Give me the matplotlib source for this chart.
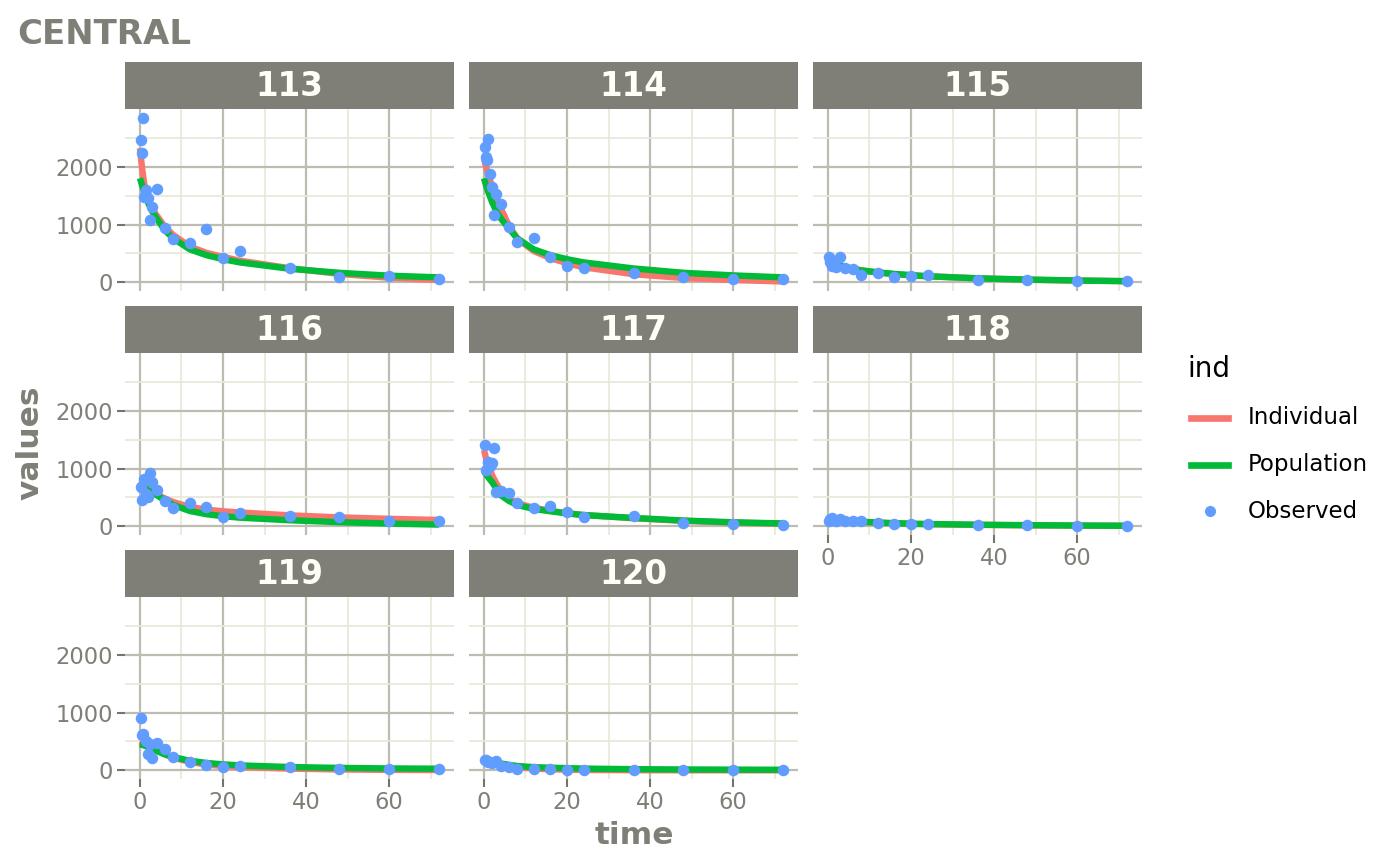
import matplotlib

matplotlib.use("Agg")
import matplotlib.pyplot as plt
from matplotlib.lines import Line2D
from matplotlib.ticker import MultipleLocator

# ---- data (CENTRAL compartment) ----
ids = ["113", "114", "115", "116", "117", "118", "119", "120"]

# prediction curves are tabulated on one common time grid
curve_t = [0, 0.5, 1, 2, 3, 4, 6, 8, 12, 16, 20, 24, 36, 48, 60, 72]

ind_113 = [2320, 1980, 1720, 1430, 1270, 1160, 960, 820, 620, 510, 440, 375, 245, 145, 80, 40]
pop_113 = [1800, 1680, 1570, 1370, 1220, 1107, 900, 761, 570, 470, 400, 345, 235, 165, 115, 86]
ind_114 = [2150, 2000, 1860, 1650, 1450, 1290, 980, 760, 540, 420, 330, 260, 140, 75, 40, 15]
pop_114 = [1800, 1680, 1570, 1380, 1230, 1110, 934, 761, 570, 470, 400, 345, 240, 165, 120, 86]
ind_115 = [420, 380, 350, 310, 290, 270, 235, 210, 170, 140, 120, 105, 70, 45, 30, 20]
pop_115 = [380, 360, 340, 310, 290, 270, 230, 205, 172, 145, 125, 105, 69, 48, 32, 20]
ind_116 = [780, 740, 700, 640, 600, 560, 480, 420, 335, 290, 260, 240, 190, 155, 130, 110]
pop_116 = [720, 690, 670, 620, 580, 540, 450, 370, 265, 210, 175, 150, 105, 72, 48, 30]
ind_117 = [1320, 1180, 1060, 880, 740, 620, 480, 400, 320, 270, 225, 195, 140, 95, 65, 45]
pop_117 = [950, 900, 850, 760, 650, 540, 440, 370, 300, 260, 225, 195, 145, 100, 70, 50]
ind_118 = [125, 120, 115, 108, 100, 94, 85, 78, 63, 52, 43, 37, 25, 17, 12, 8]
pop_118 = [120, 115, 110, 105, 100, 95, 88, 80, 65, 55, 45, 40, 28, 20, 14, 10]
ind_119 = [500, 480, 460, 420, 390, 350, 280, 220, 145, 100, 75, 55, 30, 15, 8, 5]
pop_119 = [450, 440, 430, 400, 370, 335, 275, 230, 165, 128, 103, 86, 57, 42, 33, 28]
ind_120 = [200, 185, 170, 145, 125, 105, 75, 55, 30, 18, 10, 6, 2, 1, 0.5, 0.3]
pop_120 = [190, 180, 170, 150, 135, 120, 95, 75, 55, 45, 38, 30, 20, 15, 12, 10]

obs_t_113 = [0.25, 0.5, 0.75, 1, 1.5, 2, 2.5, 3, 4, 6, 8, 12, 16, 20, 24, 36, 48, 60, 72]
obs_113 = [2460, 2230, 2850, 1480, 1590, 1450, 1083, 1308, 1619, 934, 749, 680, 927, 426, 542, 253, 97, 104, 52]
obs_t_114 = [0.25, 0.5, 0.75, 1, 1.5, 2, 2.5, 3, 4, 6, 8, 12, 16, 20, 24, 36, 48, 60, 72]
obs_114 = [2346, 2173, 2116, 2484, 1868, 1654, 1159, 1522, 1355, 951, 703, 772, 438, 287, 253, 166, 92, 62, 52]
obs_t_115 = [0.25, 0.5, 1, 1.5, 2, 3, 4, 6, 8, 12, 16, 20, 24, 36, 48, 60, 72]
obs_115 = [440, 360, 290, 320, 270, 440, 240, 225, 126, 156, 97, 114, 126, 40, 40, 22, 22]
obs_t_116 = [0.25, 0.5, 1, 1.5, 2, 2.5, 3, 4, 6, 8, 12, 16, 20, 24, 36, 48, 60, 72]
obs_116 = [680, 463, 820, 560, 505, 920, 760, 620, 433, 312, 399, 336, 163, 225, 185, 163, 99, 87]
obs_t_117 = [0.25, 0.5, 1, 1.5, 2, 2.5, 3, 4, 6, 8, 12, 16, 20, 24, 36, 48, 60, 72]
obs_117 = [1399, 977, 1121, 1035, 1090, 1359, 601, 619, 579, 405, 324, 347, 243, 168, 173, 64, 47, 29]
obs_t_118 = [0.25, 0.5, 1, 1.5, 2, 3, 4, 6, 8, 12, 16, 20, 24, 36, 48, 60, 72]
obs_118 = [100, 130, 150, 110, 90, 120, 90, 92, 92, 64, 35, 35, 46, 17, 17, 12, 12]
obs_t_119 = [0.25, 0.5, 0.75, 1.5, 2, 2.5, 3, 4, 6, 8, 12, 16, 20, 24, 36, 48, 60, 72]
obs_119 = [907, 603, 631, 505, 276, 448, 218, 476, 362, 229, 143, 86, 62, 74, 52, 28, 28, 22]
obs_t_120 = [0.25, 0.5, 1, 1.5, 2, 3, 4, 6, 8, 12, 16, 20, 24, 36, 48, 60, 72]
obs_120 = [172, 180, 150, 143, 120, 160, 74, 52, 22, 22, 18, 6, 6, 3, 2, 1, 1]

individual = [ind_113, ind_114, ind_115, ind_116, ind_117, ind_118, ind_119, ind_120]
population = [pop_113, pop_114, pop_115, pop_116, pop_117, pop_118, pop_119, pop_120]
obs_times = [obs_t_113, obs_t_114, obs_t_115, obs_t_116, obs_t_117, obs_t_118, obs_t_119, obs_t_120]
observed = [obs_113, obs_114, obs_115, obs_116, obs_117, obs_118, obs_119, obs_120]

# ---- style ----
RED, GREEN, BLUE = "#F8766D", "#00BA38", "#619CFF"
GREY = "#7F7F77"
TICK = "#74746C"
MAJOR, MINOR = "#BDBCB0", "#E8E8DA"

W, H = 1400, 865
col_x = [125, 469, 813]
pw = 329
strip_top = [62, 306, 550]
strip_h = 47
panel_h = 181.6


def fig_box(x, y_top, w, h):
    return [x / W, 1 - (y_top + h) / H, w / W, h / H]


fig = plt.figure(figsize=(W / 100, H / 100), dpi=100)

for k, sid in enumerate(ids):
    r, c = divmod(k, 3)
    ax = fig.add_axes(fig_box(col_x[c], strip_top[r] + strip_h, pw, panel_h))
    ax.set_facecolor("white")
    for s in ax.spines.values():
        s.set_visible(False)
    ax.set_xlim(-3.6, 75.6)
    ax.set_ylim(-143, 2998)
    ax.xaxis.set_major_locator(MultipleLocator(20))
    ax.xaxis.set_minor_locator(MultipleLocator(10))
    ax.yaxis.set_major_locator(MultipleLocator(1000))
    ax.yaxis.set_minor_locator(MultipleLocator(500))
    ax.grid(which="major", color=MAJOR, lw=1.6)
    ax.grid(which="minor", color=MINOR, lw=1.3)
    ax.set_axisbelow(True)
    ax.tick_params(which="minor", length=0)
    ax.tick_params(which="major", length=5.5, width=1.5, color=TICK,
                   labelcolor=GREY, labelsize=16.3, pad=3.3)

    bottom = k + 3 >= len(ids)
    ax.tick_params(axis="x", labelbottom=bottom, length=5.5 if bottom else 0)
    ax.tick_params(axis="y", labelleft=(c == 0), length=5.5 if c == 0 else 0)

    ax.plot(curve_t, individual[k], color=RED, lw=4.6, solid_capstyle="butt", zorder=2)
    ax.plot(curve_t, population[k], color=GREEN, lw=4.6, solid_capstyle="butt", zorder=3)
    ax.plot(obs_times[k], observed[k], "o", color=BLUE, ms=8.3, mew=0, zorder=4)

    sax = fig.add_axes(fig_box(col_x[c], strip_top[r], pw, strip_h))
    sax.set_facecolor(GREY)
    sax.set_xticks([])
    sax.set_yticks([])
    for s in sax.spines.values():
        s.set_visible(False)
    sax.text(0.5, 0.47, sid, transform=sax.transAxes, ha="center", va="center",
             color="#FFFFF5", fontsize=23.5, fontweight="bold")

fig.text(17 / W, 1 - 44 / H, "CENTRAL", color=GREY, fontsize=24.5,
         fontweight="bold", ha="left", va="baseline")
fig.text(30 / W, 1 - 443 / H, "values", color=GREY, fontsize=22.5,
         fontweight="bold", rotation=90, ha="center", va="center")
fig.text(634 / W, 1 - 835 / H, "time", color=GREY, fontsize=22.5,
         fontweight="bold", ha="center", va="center")

# legend drawn by hand in figure pixels
fig.text(1187 / W, 1 - 369 / H, "ind", fontsize=20, ha="left", va="center")
leg = [("Individual", RED, "line", 418), ("Population", GREEN, "line", 465),
       ("Observed", BLUE, "point", 511)]
for label, col, kind, yy in leg:
    y = 1 - yy / H
    if kind == "line":
        fig.add_artist(Line2D([1191 / W, 1228 / W], [y, y], color=col, lw=4.8,
                              transform=fig.transFigure))
    else:
        fig.add_artist(Line2D([1210 / W], [y], marker="o", ms=8, mew=0, color=col,
                              transform=fig.transFigure))
    fig.text(1248 / W, y, label, fontsize=16.5, ha="left", va="center")

fig.savefig("out.png", dpi=100)
